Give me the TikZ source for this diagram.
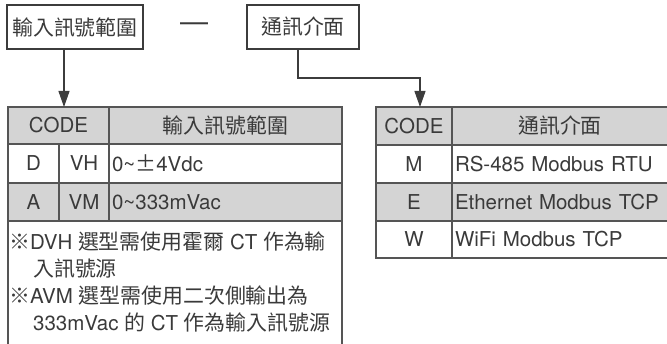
\documentclass[tikz,border=0pt]{standalone}
\usepackage{fontspec}
\setmainfont{TeX Gyre Heros}
\newfontfamily\cjk[Scale=1.02]{Noto Sans CJK TC}
\usetikzlibrary{arrows.meta}
\definecolor{GridInk}{HTML}{555555}
\definecolor{BoxInk}{HTML}{3C3C3C}
\definecolor{LabelInk}{HTML}{3A3A3A}
\definecolor{HeadShade}{HTML}{D4D4D4}
\newcommand{\zh}[1]{{\cjk #1}}

\begin{document}
\begin{tikzpicture}[x=1pt,y=-1pt,
  font=\fontsize{20.5}{27}\selectfont,
  text=LabelInk,
  titlebox/.style={draw=BoxInk,line width=1.3pt,minimum height=44pt,inner sep=0pt},
  cell/.style={draw=GridInk,line width=1.4pt,inner sep=0pt,outer sep=0pt,anchor=north west},
  valcell/.style={cell,inner xsep=3pt,align=left},
  noteline/.style={anchor=base west,inner sep=0pt},
  link/.style={draw=BoxInk,line width=1.1pt,-{Triangle[width=11pt,length=16pt]}},
]
  \useasboundingbox (0,0) rectangle (667,344);
  \clip (0,0) rectangle (667,344);

  % model code parts
  \node[titlebox,minimum width=136pt] (inbox) at (75,27) {\zh{輸入訊號範圍}};
  \node[font=\fontsize{28}{28}\selectfont] (dash) at (194,27) {—};
  \node[titlebox,minimum width=112pt] (commbox) at (303,27) {\zh{通訊介面}};

  % input range table
  \node[cell,fill=HeadShade,minimum width=101pt,minimum height=37pt] (incode) at (8,107) {CODE};
  \node[cell,fill=HeadShade,minimum width=233pt,minimum height=37pt] (inhead) at (109,107) {\zh{輸入訊號範圍}};
  \node[cell,minimum width=51pt,minimum height=39pt] (dcode) at (8,144) {D};
  \node[cell,minimum width=50pt,minimum height=39pt] (dsub) at (59,144) {VH};
  \node[valcell,text width=227pt,minimum height=39pt] (dval) at (109,144) {0\textasciitilde\zh{±}4Vdc};
  \node[cell,fill=HeadShade,minimum width=51pt,minimum height=38pt] (acode) at (8,183) {A};
  \node[cell,fill=HeadShade,minimum width=50pt,minimum height=38pt] (asub) at (59,183) {VM};
  \node[valcell,fill=HeadShade,text width=227pt,minimum height=38pt] (aval) at (109,183) {0\textasciitilde 333mVac};
  \node[cell,minimum width=334pt,minimum height=140pt] (notes) at (8,221) {};

  \node[noteline] (dvhnote) at (9,250) {\zh{※}DVH \zh{選型需使用霍爾} CT \zh{作為輸}};
  \node[noteline] (dvhcont) at (33,277) {\zh{入訊號源}};
  \node[noteline] (avmnote) at (9,304) {\zh{※}AVM \zh{選型需使用二次側輸出為}};
  \node[noteline] (avmcont) at (33,331) {333mVac \zh{的} CT \zh{作為輸入訊號源}};

  % interface table
  \node[cell,fill=HeadShade,minimum width=76pt,minimum height=38pt] (cmcode) at (376,107) {CODE};
  \node[cell,fill=HeadShade,minimum width=216pt,minimum height=38pt] (cmhead) at (452,107) {\zh{通訊介面}};
  \node[cell,minimum width=76pt,minimum height=38pt] (mcode) at (376,145) {M};
  \node[valcell,text width=210pt,minimum height=38pt] (mval) at (452,145) {RS-485 Modbus RTU};
  \node[cell,fill=HeadShade,minimum width=76pt,minimum height=38pt] (ecode) at (376,183) {E};
  \node[valcell,fill=HeadShade,text width=210pt,minimum height=38pt] (eval) at (452,183) {Ethernet Modbus TCP};
  \node[cell,minimum width=76pt,minimum height=37pt] (wcode) at (376,221) {W};
  \node[valcell,text width=210pt,minimum height=37pt] (wval) at (452,221) {WiFi Modbus TCP};

  % connectors
  \coordinate (inarr) at (64,107);
  \draw[link] (inarr |- inbox.south) -- (inarr);
  \coordinate (cmbend) at (420,78);
  \coordinate (cmarr) at (420,107);
  \draw[link] ([xshift=-5pt]commbox.south) |- (cmbend) -- (cmarr);
\end{tikzpicture}
\end{document}
